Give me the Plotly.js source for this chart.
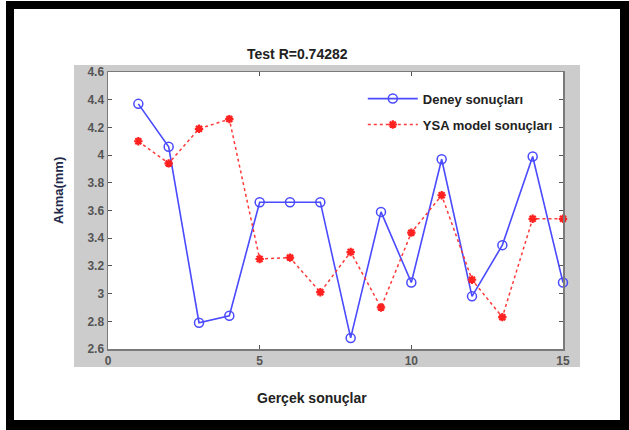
<!DOCTYPE html>
<html>
<head>
<meta charset="utf-8">
<script src="https://cdn.plot.ly/plotly-3.0.1.min.js"></script>
<style>
  html, body { margin: 0; padding: 0; background: #ffffff; width: 629px; height: 430px; overflow: hidden; }
  #frame { position: absolute; left: 6px; top: 1px; width: 623px; height: 429px; background: #000000; }
  #chart { position: absolute; left: 14px; top: 9px; width: 606px; height: 411px; background: #ffffff; }
</style>
</head>
<body>
<div id="frame"></div>
<div id="chart"></div>
<script>
// Data
const sampleIndex = [1, 2, 3, 4, 5, 6, 7, 8, 9, 10, 11, 12, 13, 14, 15];
const deneySonuclari = [4.37, 4.06, 2.79, 2.84, 3.66, 3.66, 3.66, 2.68, 3.59, 3.08, 3.97, 2.98, 3.35, 3.99, 3.08];
const ysaModelSonuclari = [4.10, 3.94, 4.19, 4.26, 3.25, 3.26, 3.01, 3.30, 2.90, 3.44, 3.71, 3.10, 2.83, 3.54, 3.54];
const seriesNames = ["Deney sonuçları", "YSA model sonuçları"];
const xTickVals = [0, 5, 10, 15];
const yTickVals = [2.6, 2.8, 3.0, 3.2, 3.4, 3.6, 3.8, 4.0, 4.2, 4.4, 4.6];
const chartTitle = "Test R=0.74282";
const xTitle = "Gerçek sonuçlar";
const yTitle = "Akma(mm)";

const FONT = "'Liberation Sans', Arial, Helvetica, sans-serif";

const traces = [
  {
    x: sampleIndex, y: deneySonuclari, name: seriesNames[0],
    type: "scatter", mode: "lines+markers", legendgroup: "a", cliponaxis: false,
    line: { color: "#4a4aff", width: 1.6 },
    marker: { symbol: "circle-open", size: 9, color: "#4a4aff", line: { width: 1.5, color: "#4a4aff" } }
  },
  {
    x: sampleIndex, y: ysaModelSonuclari, name: seriesNames[1],
    type: "scatter", mode: "lines+markers", legendgroup: "b", cliponaxis: false,
    line: { color: "#ff3a3a", width: 1.5, dash: "dot" },
    marker: { symbol: "asterisk-open", size: 7, color: "#ff2020", line: { width: 2.2, color: "#ff2020" } }
  }
];

const axisCommon = {
  showgrid: false, zeroline: false,
  showline: true, linecolor: "#7a7a7a", linewidth: 1.5, mirror: "ticks",
  ticks: "inside", ticklen: 4, tickwidth: 1, tickcolor: "#555555",
  tickfont: { family: FONT, size: 12, color: "#555555", weight: "bold" }
};

const layout = {
  width: 606, height: 411,
  margin: { l: 94, r: 57, t: 63, b: 71 },
  paper_bgcolor: "rgba(0,0,0,0)",
  plot_bgcolor: "rgba(0,0,0,0)",
  showlegend: true,
  legend: {
    x: 0.56, y: 0.958, xanchor: "left", yanchor: "top",
    bgcolor: "rgba(0,0,0,0)", borderwidth: 0,
    itemwidth: 50, tracegroupgap: 6,
    font: { family: FONT, size: 13, color: "#222222", weight: "bold" }
  },
  xaxis: Object.assign({}, axisCommon, {
    range: [0, 15], tickvals: xTickVals, ticktext: xTickVals.map(String)
  }),
  yaxis: Object.assign({}, axisCommon, {
    range: [2.6, 4.6], tickvals: yTickVals
  }),
  shapes: [
    { type: "rect", xref: "paper", yref: "paper", x0: -0.0747, x1: 1.0374, y0: -0.065, y1: 1.0253,
      fillcolor: "#cccccc", line: { width: 0 }, layer: "below" },
    { type: "rect", xref: "paper", yref: "paper", x0: 0, x1: 1, y0: 0, y1: 1,
      fillcolor: "#ffffff", line: { width: 0 }, layer: "below" }
  ],
  annotations: [
    { text: chartTitle, xref: "paper", yref: "paper", x: 0.4154, y: 1.065, showarrow: false,
      xanchor: "center", yanchor: "middle",
      font: { family: FONT, size: 14, color: "#222222", weight: "bold" } },
    { text: xTitle, xref: "paper", yref: "paper", x: 0.448, y: -0.177, showarrow: false,
      xanchor: "center", yanchor: "middle",
      font: { family: FONT, size: 14, color: "#222222", weight: "bold" } },
    { text: yTitle, xref: "paper", yref: "paper", x: -0.11, y: 0.574, showarrow: false,
      textangle: -90, xanchor: "center", yanchor: "middle",
      font: { family: FONT, size: 13, color: "#1f2a4a", weight: "bold" } }
  ]
};

Plotly.newPlot("chart", traces, layout, { displayModeBar: false, staticPlot: true });
</script>
</body>
</html>
